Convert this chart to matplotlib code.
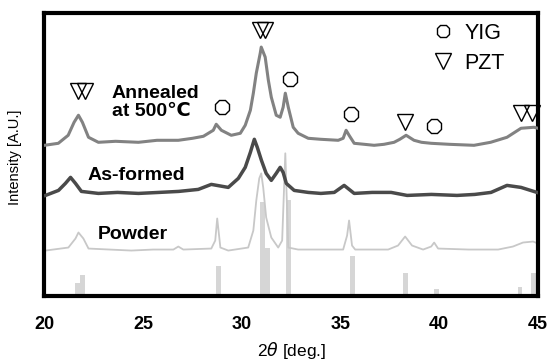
import matplotlib
matplotlib.use("Agg")
import matplotlib.pyplot as plt
from matplotlib.lines import Line2D

plt.rcParams["font.family"] = ["Liberation Sans", "DejaVu Sans"]

# XRD patterns, 2theta (deg) vs intensity (arbitrary, stacked offsets included)
annealed_x = [20.0, 20.7, 21.2, 21.5, 21.72, 21.92, 22.23, 22.73, 23.6, 24.76, 25.7, 26.78,
              27.5, 28.05, 28.55, 28.7, 28.96, 29.46, 29.92, 30.17, 30.43, 30.58, 30.73,
              30.93, 30.98, 31.18, 31.34, 31.49, 31.74, 31.94, 32.09, 32.2, 32.35, 32.6,
              32.85, 33.36, 34.0, 34.88, 35.13, 35.28, 35.43, 35.69, 36.2, 36.7, 37.2,
              37.71, 38.0, 38.32, 38.72, 39.1, 39.59, 40.5, 41.76, 42.6, 43.43, 44.14, 44.8, 45.0]
annealed_y = [150, 152, 160, 173, 180, 173, 158, 153, 154, 153, 155, 155,
              157, 159, 165, 171, 165, 160, 162, 170, 185, 202, 222,
              242, 248, 238, 215, 198, 180, 178, 188, 202, 188, 168,
              162, 157, 156, 155, 157, 165, 160, 152, 151, 150, 151,
              153, 156, 160, 155, 153, 152, 151, 150, 153, 158, 167, 168, 167]

asformed_x = [20.05, 20.71, 21.06, 21.32, 21.57, 21.87, 22.73, 23.7, 24.76, 25.8, 26.8,
              27.79, 28.45, 29.31, 29.82, 30.17, 30.43, 30.63, 30.78, 30.99, 31.23, 31.49,
              31.74, 31.94, 32.09, 32.25, 32.65, 33.36, 34.0, 34.68, 35.18, 35.69, 36.6,
              37.56, 38.37, 39.6, 40.9, 41.8, 42.62, 43.43, 44.14, 44.95]
asformed_y = [100, 105, 112, 118, 112, 104, 102, 103, 102, 103, 104,
              106, 111, 108, 117, 128, 143, 156, 148, 135, 122, 115,
              122, 128, 123, 112, 105, 103, 102, 103, 110, 102, 103,
              103, 100, 101, 100, 101, 103, 110, 108, 103]

powder_x = [20.05, 21.21, 21.57, 21.72, 21.97, 22.23, 23.3, 24.4, 25.5, 26.53, 26.78, 27.03,
            28.45, 28.65, 28.75, 28.91, 29.31, 30.32, 30.58, 30.73, 30.88, 30.98, 31.08,
            31.23, 31.49, 31.84, 32.04, 32.2, 32.35, 32.85, 34.0, 35.13, 35.33, 35.43,
            35.58, 35.74, 36.6, 37.41, 37.91, 38.27, 38.62, 39.18, 39.59, 39.74, 39.94,
            41.5, 42.98, 43.73, 44.24, 44.75, 45.0]
powder_y = [45, 48, 57, 63, 57, 47, 46, 45, 46, 46, 49, 46,
            47, 55, 77, 48, 45, 48, 65, 95, 117, 122, 108,
            78, 58, 48, 55, 142, 48, 46, 46, 46, 60, 75,
            50, 46, 46, 46, 50, 59, 50, 46, 49, 53, 47,
            46, 46, 49, 53, 54, 52]

# reference stick pattern
ref_pos = [21.67, 21.92, 28.83, 31.03, 31.31, 32.35, 35.61, 38.29, 39.86, 44.09, 44.75]
ref_height = [13, 21, 30, 93, 48, 95, 40, 23, 7, 9, 23]

# peak markers (position, height)
yig_x = [29.0, 32.45, 35.54, 39.74]
yig_y = [188, 216, 181, 169]
pzt_x = [21.72, 22.07, 30.93, 31.18, 38.27, 44.14, 44.7]
pzt_y = [204, 204, 265, 265, 173, 182, 182]

xticks = [20, 25, 30, 35, 40, 45]

fig = plt.figure(figsize=(5.52, 3.61), dpi=100)
ax = fig.add_axes([0.0806, 0.181, 0.894, 0.783])

ax.bar(ref_pos, ref_height, width=0.25, color="#d6d6d6", zorder=1)
ax.plot(powder_x, powder_y, color="#c8c8c8", lw=1.3, zorder=2)
ax.plot(asformed_x, asformed_y, color="#4a4a4a", lw=2.5, zorder=3)
ax.plot(annealed_x, annealed_y, color="#828282", lw=2.2, zorder=3)

ax.plot(yig_x, yig_y, ls="none", marker="8", ms=10.5, mfc="white", mec="black",
        mew=1.0, zorder=5, clip_on=False)
ax.plot(pzt_x, pzt_y, ls="none", marker="v", ms=11, mfc="none", mec="black",
        mew=1.0, zorder=5, clip_on=False)

ax.text(23.4, 193, "Annealed\nat 500\u2103", fontsize=14, fontweight="bold",
        va="center", ha="left", linespacing=1.1)
ax.text(22.2, 120, "As-formed", fontsize=14, fontweight="bold", va="center", ha="left")
ax.text(22.7, 61, "Powder", fontsize=14, fontweight="bold", va="center", ha="left")

handles = [
    Line2D([], [], ls="none", marker="8", ms=10, mfc="white", mec="black", mew=1.0),
    Line2D([], [], ls="none", marker="v", ms=11, mfc="none", mec="black", mew=1.0),
]
ax.legend(handles, ["YIG", "PZT"], loc="upper left", bbox_to_anchor=(0.787, 0.965),
          frameon=False, fontsize=15.5, handlelength=0.9, handletextpad=0.55,
          labelspacing=0.4, borderpad=0, borderaxespad=0)

ax.set_xlim(20, 45)
ax.set_ylim(0, 282)
ax.set_xticks(xticks)
ax.set_xticklabels([str(t) for t in xticks], fontsize=13, fontweight="bold")
ax.set_yticks([])
ax.tick_params(axis="x", length=0, pad=15)
ax.set_xlabel(r"2$\theta$ [deg.]", fontsize=12.5, labelpad=5)
ax.set_ylabel("Intensity [A.U.]", fontsize=10.5, labelpad=10)
ax.yaxis.set_label_coords(-0.045, 0.49)
for s in ax.spines.values():
    s.set_linewidth(3)

fig.savefig("out.png", dpi=100)
